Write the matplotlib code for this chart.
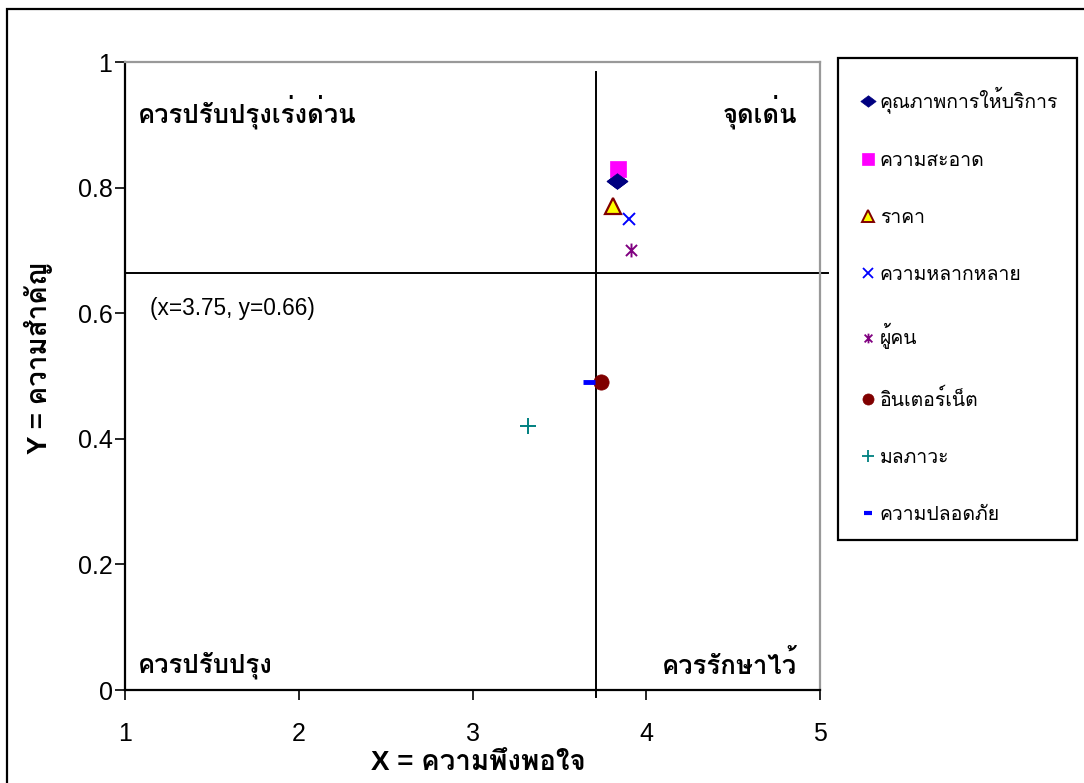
import matplotlib
matplotlib.use('Agg')
import matplotlib.pyplot as plt
from matplotlib import font_manager
from matplotlib.lines import Line2D
from matplotlib.path import Path
import matplotlib.patches as mpatches

# ---------------- data ----------------
series_names = ['คุณภาพการให้บริการ', 'ความสะอาด', 'ราคา', 'ความหลากหลาย',
                'ผู้คน', 'อินเตอร์เน็ต', 'มลภาวะ', 'ความปลอดภัย']
x_values = [3.83, 3.84, 3.81, 3.90, 3.91, 3.74, 3.32, 3.67]
y_values = [0.81, 0.83, 0.77, 0.75, 0.70, 0.49, 0.42, 0.49]
x_mean = 3.71
y_mean = 0.664
mean_label = '(x=3.75, y=0.66)'
quadrant_labels = ['ควรปรับปรุงเร่งด่วน', 'จุดเด่น', 'ควรปรับปรุง', 'ควรรักษาไว้']
x_ticks = [1, 2, 3, 4, 5]
y_ticks = [0, 0.2, 0.4, 0.6, 0.8, 1]
x_label = 'X = ความพึงพอใจ'
y_label = 'Y = ความสำคัญ'

# ---------------- fonts ----------------
def find_thai_families():
    try:
        from fontTools.ttLib import TTFont
    except Exception:
        return {}
    found = {}
    for f in font_manager.fontManager.ttflist:
        try:
            tt = TTFont(f.fname, fontNumber=0, lazy=True)
            cmap = tt.getBestCmap()
            if cmap and 0x0E04 in cmap and 0x0E33 in cmap:
                w = f.weight if isinstance(f.weight, int) else 400
                found.setdefault(f.name, set()).add(w)
        except Exception:
            pass
    return found

found = find_thai_families()
prefs = ['Tahoma', 'Loma', 'Noto Sans Thai', 'Noto Sans Thai UI', 'Garuda',
         'Waree', 'Sarabun', 'Norasi', 'Kinnari']
ordered = [p for p in prefs if p in found] + sorted(n for n in found if n not in prefs)
thai = ordered[0] if ordered else None
thai_bold = None
for n in ordered:
    if max(found[n]) >= 600:
        thai_bold = n
        break
if thai_bold is None:
    thai_bold = thai

fam = ['Liberation Sans'] + ([thai] if thai else []) + ['DejaVu Sans']
fam_bold = ['Liberation Sans'] + ([thai_bold] if thai_bold else []) + ['DejaVu Sans']
plt.rcParams['font.family'] = fam

# ---------------- figure ----------------
W, H = 1084, 783
fig = plt.figure(figsize=(W / 100, H / 100), dpi=100)
ax = fig.add_axes([125 / W, 1 - 690 / H, (820 - 125) / W, (690 - 62) / H])

# outer frame
fig.patches.append(mpatches.Rectangle((7 / W, -0.1), 1.2, 1.1 - 9 / H,
                                      transform=fig.transFigure, fill=False,
                                      edgecolor='black', linewidth=1.6,
                                      clip_on=False))
# legend box
fig.patches.append(mpatches.Rectangle((838 / W, 1 - 540 / H), (1077 - 838) / W,
                                      (540 - 58) / H,
                                      transform=fig.transFigure, fill=False,
                                      edgecolor='black', linewidth=1.6,
                                      clip_on=False))

# custom markers
asterisk = Path([(-1, -1), (1, 1), (-1, 1), (1, -1), (0, -1.25), (0, 1.25)],
                [Path.MOVETO, Path.LINETO, Path.MOVETO, Path.LINETO,
                 Path.MOVETO, Path.LINETO])
wide_diamond = Path([(-1, 0), (0, 0.75), (1, 0), (0, -0.75), (-1, 0)],
                    [Path.MOVETO, Path.LINETO, Path.LINETO, Path.LINETO,
                     Path.CLOSEPOLY])

styles = [
    dict(marker=wide_diamond, ms=15, mfc='#000080', mec='#000080', mew=0.5),
    dict(marker='s', ms=11, mfc='#FF00FF', mec='#FF00FF', mew=0.5),
    dict(marker='^', ms=12, mfc='#FFFF00', mec='#800000', mew=1.6),
    dict(marker='x', ms=9, mfc='none', mec='#0000FF', mew=1.4),
    dict(marker=asterisk, ms=10, mfc='none', mec='#800080', mew=1.4),
    dict(marker='o', ms=11, mfc='#800000', mec='#800000', mew=0.5),
    dict(marker='+', ms=11, mfc='none', mec='#008080', mew=1.4),
    dict(marker='_', ms=9, mfc='none', mec='#0000FF', mew=3.5),
]
legend_styles = [
    dict(marker=wide_diamond, ms=11, mfc='#000080', mec='#000080', mew=0.5),
    dict(marker='s', ms=8, mfc='#FF00FF', mec='#FF00FF', mew=0.5),
    dict(marker='^', ms=9, mfc='#FFFF00', mec='#800000', mew=1.4),
    dict(marker='x', ms=7, mfc='none', mec='#0000FF', mew=1.3),
    dict(marker=asterisk, ms=7, mfc='none', mec='#800080', mew=1.3),
    dict(marker='o', ms=8, mfc='#800000', mec='#800000', mew=0.5),
    dict(marker='+', ms=8, mfc='none', mec='#008080', mew=1.3),
    dict(marker='_', ms=6, mfc='none', mec='#0000FF', mew=3.0),
]

# reference lines (mean)
ax.plot([x_mean, x_mean], [-0.011, 0.984], color='black', lw=1.4,
        clip_on=False, zorder=2)
ax.plot([1, 5.045], [y_mean, y_mean], color='black', lw=1.4,
        clip_on=False, zorder=2)

handles = []
for name, xv, yv, st, lst in zip(series_names, x_values, y_values, styles, legend_styles):
    ax.plot([xv], [yv], linestyle='none', zorder=3, **st)
    handles.append(Line2D([], [], linestyle='none', label=name, **lst))
ax.plot([x_values[0]], [y_values[0]], linestyle='none', zorder=4, **styles[0])

ax.set_xlim(1, 5)
ax.set_ylim(0, 1)
ax.set_xticks(x_ticks)
ax.set_xticklabels([str(t) for t in x_ticks])
ax.set_yticks(y_ticks)
ax.set_yticklabels(['0', '0.2', '0.4', '0.6', '0.8', '1'])
ax.tick_params(axis='both', labelsize=18, direction='out', length=7, width=1.2,
               colors='black')
ax.tick_params(axis='x', pad=16)
ax.tick_params(axis='y', pad=2)
for s in ['left', 'bottom']:
    ax.spines[s].set_color('black')
    ax.spines[s].set_linewidth(1.6)
for s in ['top', 'right']:
    ax.spines[s].set_color('#999999')
    ax.spines[s].set_linewidth(1.6)

# quadrant labels
qkw = dict(fontsize=18.5, fontweight='bold', family=fam_bold,
           transform=ax.transAxes, va='center')
ax.text(13 / 695, 1 - (112 - 62) / 628, quadrant_labels[0], ha='left', **qkw)
ax.text(1 - 23 / 695, 1 - (112 - 62) / 628, quadrant_labels[1], ha='right', **qkw)
ax.text(13 / 695, 1 - (665 - 62) / 628, quadrant_labels[2], ha='left', **qkw)
ax.text(1 - 23 / 695, 1 - (665 - 62) / 628, quadrant_labels[3], ha='right', **qkw)

ax.text((150 - 125) / 695, 1 - (308 - 62) / 628, mean_label, fontsize=16.3,
        ha='left', va='center', transform=ax.transAxes)

fig.text(478 / W, 1 - 763 / H, x_label, fontsize=20, fontweight='bold',
         family=fam_bold, ha='center', va='center')
fig.text(38 / W, 1 - 358 / H, y_label, fontsize=20, fontweight='bold',
         family=fam_bold, ha='center', va='center', rotation=90)

leg = fig.legend(handles=handles, loc='upper left',
                 bbox_to_anchor=(839 / W, 1 - 65 / H), frameon=False,
                 fontsize=14, labelspacing=2.02, handlelength=0.8,
                 handletextpad=0.2, borderpad=1.1, borderaxespad=0)

fig.savefig('out.png', dpi=100)
